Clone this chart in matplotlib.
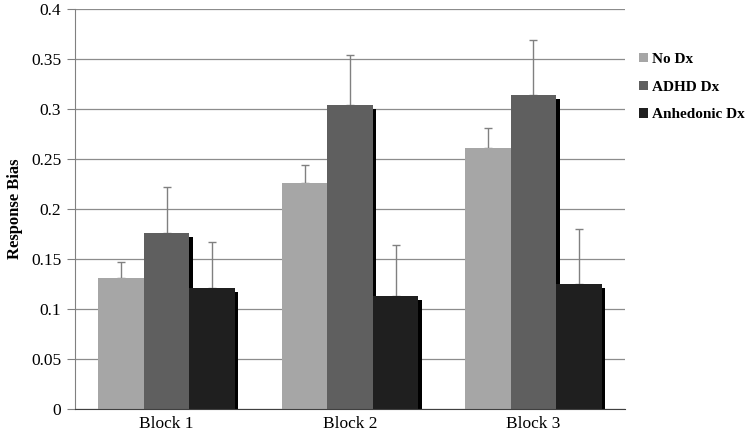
import matplotlib
matplotlib.use("Agg")
import matplotlib.pyplot as plt
import matplotlib.patheffects as pe
from matplotlib.patches import Patch
import numpy as np

categories = ["Block 1", "Block 2", "Block 3"]
series = ["No Dx", "ADHD Dx", "Anhedonic Dx"]
no_dx = [0.131, 0.226, 0.261]
adhd_dx = [0.176, 0.304, 0.314]
anhedonic_dx = [0.121, 0.113, 0.125]
no_dx_err = [0.016, 0.018, 0.020]
adhd_dx_err = [0.046, 0.050, 0.055]
anhedonic_dx_err = [0.046, 0.051, 0.055]
colors = ["#a6a6a6", "#5f5f5f", "#1f1f1f"]

plt.rcParams['font.family'] = ['Liberation Serif', 'DejaVu Serif']

fig = plt.figure(figsize=(7.54, 4.38), dpi=100)
ax = fig.add_axes([0.0995, 0.0662, 0.7295, 0.9128])

x = np.arange(len(categories))
w = 0.248
vals = [no_dx, adhd_dx, anhedonic_dx]
errs = [no_dx_err, adhd_dx_err, anhedonic_dx_err]
for i, (v, e, c, name) in enumerate(zip(vals, errs, colors, series)):
    pos = x + (i - 1) * w
    ax.bar(pos, v, width=w, color=c, zorder=3,
           path_effects=[pe.SimplePatchShadow(offset=(2.5, -2.5), shadow_rgbFace='black', alpha=1.0), pe.Normal()])
    ax.errorbar(pos, v, yerr=[np.zeros(len(v)), e], fmt='none', ecolor='#808080',
                elinewidth=1.0, capsize=3, capthick=1.0, zorder=2)

ax.set_xlim(-0.5, 2.5)
ax.set_ylim(0, 0.4)
ax.set_yticks(np.arange(0, 0.41, 0.05))
ax.set_yticklabels(["0", "0.05", "0.1", "0.15", "0.2", "0.25", "0.3", "0.35", "0.4"])
ax.set_xticks(x)
ax.set_xticklabels(categories)
ax.tick_params(axis='x', length=0, labelsize=12.5, pad=5)
ax.tick_params(axis='y', length=6, color='#808080', labelsize=12.5, width=0.8, pad=4)
ax.yaxis.grid(True, color='#8c8c8c', linewidth=0.9, zorder=0)
ax.set_axisbelow(True)
for s in ['top', 'right']:
    ax.spines[s].set_visible(False)
ax.spines['left'].set_color('#808080')
ax.spines['bottom'].set_color('#404040')
ax.spines['bottom'].set_zorder(4)
ax.set_ylabel("Response Bias", fontweight='bold', fontsize=12, labelpad=6)

handles = [Patch(facecolor=c, edgecolor='none', label=n) for c, n in zip(colors, series)]
ax.legend(handles=handles, loc='upper left', bbox_to_anchor=(1.015, 0.905), frameon=False,
          prop={'weight': 'bold', 'size': 11}, handlelength=0.55, handleheight=0.55,
          handletextpad=0.3, labelspacing=0.95, borderaxespad=0)

fig.savefig("out.png", dpi=100)
